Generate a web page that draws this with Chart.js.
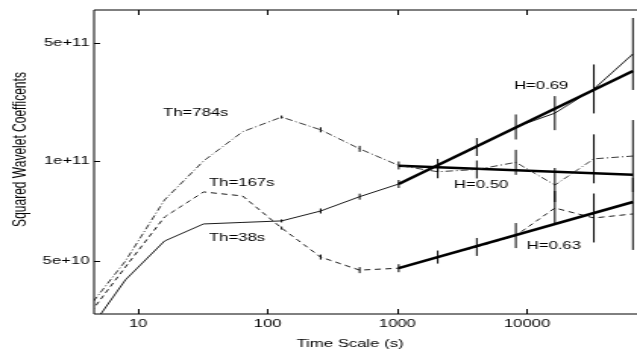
<!DOCTYPE html>
<html>
<head>
<meta charset="utf-8">
<script src="https://cdn.jsdelivr.net/npm/chart.js@4.4.1/dist/chart.umd.min.js"></script>
<style>
  html, body { margin: 0; padding: 0; background: #fff; }
  canvas { display: block; }
</style>
</head>
<body>
<!-- drawn at 420 wide and stretched to 637, like the original figure -->
<canvas id="waveChart" width="420" height="352" style="width:637px;height:352px"></canvas>
<script>
// time scales (s), octaves 2..16
const scales = [4, 8, 16, 32, 64, 128, 256, 512, 1024, 2048, 4096, 8192, 16384, 32768, 65536];
const th38  = [9.47e9, 1.98e10, 3.36e10, 4.24e10, 4.33e10, 4.42e10, 5.06e10, 6.15e10, 7.31e10, 9.41e10, 1.21e11, 1.59e11, 1.92e11, 2.67e11, 4.30e11];
const th167 = [1.18e10, 2.36e10, 4.66e10, 6.56e10, 6.21e10, 4.01e10, 2.70e10, 2.26e10, 2.32e10, 2.70e10, 3.10e10, 3.62e10, 5.27e10, 4.60e10, 4.86e10];
const th784 = [1.31e10, 2.56e10, 5.88e10, 1.00e11, 1.49e11, 1.82e11, 1.53e11, 1.18e11, 9.41e10, 8.64e10, 8.91e10, 9.82e10, 7.21e10, 1.03e11, 1.07e11];
// confidence interval (multiplicative) at each scale
const ciFactor = [1, 1, 1, 1, 1, 1.021, 1.035, 1.042, 1.056, 1.093, 1.130, 1.186, 1.261, 1.396, 1.633];

// fitted lines over 1024..65536
const fitScales = [1024, 65536];
const fitH069 = [7.31e10, 3.41e11];
const fitH050 = [9.38e10, 8.29e10];
const fitH063 = [2.32e10, 5.72e10];

const xTicks = [10, 100, 1000, 10000];
const yTickValues = [2.56e10, 1e11, 5e11];
const yTickLabels = ['5e+10', '1e+11', '5e+11'];

const notes = [
  { text: 'Th=784s', x: 15.6, y: 1.92e11 },
  { text: 'Th=167s', x: 35.3, y: 7.38e10 },
  { text: 'Th=38s', x: 35.3, y: 3.52e10 },
  { text: 'H=0.69', x: 7937, y: 2.78e11 },
  { text: 'H=0.50', x: 2735, y: 7.21e10 },
  { text: 'H=0.63', x: 9948, y: 3.14e10 }
];

function pts(xs, ys) {
  return xs.map((x, i) => ({ x: x, y: ys[i] }));
}

const frameAndExtras = {
  id: 'frameAndExtras',
  afterDatasetsDraw(chart) {
    const ctx = chart.ctx;
    const a = chart.chartArea;
    const x = chart.scales.x, y = chart.scales.y;
    // error bars
    ctx.save();
    ctx.beginPath();
    ctx.rect(a.left, a.top, a.right - a.left, a.bottom - a.top);
    ctx.clip();
    ctx.strokeStyle = '#000';
    ctx.lineWidth = 1;
    ctx.beginPath();
    [th38, th167, th784].forEach(series => {
      series.forEach((v, i) => {
        const f = ciFactor[i];
        if (f <= 1) return;
        const px = x.getPixelForValue(scales[i]);
        ctx.moveTo(px, y.getPixelForValue(v * f));
        ctx.lineTo(px, y.getPixelForValue(v / f));
      });
    });
    ctx.stroke();
    ctx.restore();
  },
  afterDraw(chart) {
    const ctx = chart.ctx;
    const a = chart.chartArea;
    const x = chart.scales.x, y = chart.scales.y;
    ctx.save();
    ctx.strokeStyle = '#000';
    ctx.lineWidth = 1;
    ctx.beginPath();
    ctx.moveTo(a.right + 2, a.top);
    ctx.lineTo(a.left, a.top);
    ctx.lineTo(a.left, a.bottom);
    ctx.lineTo(a.right + 2, a.bottom);
    // inward ticks
    xTicks.forEach(t => {
      const px = Math.round(x.getPixelForValue(t)) + 0.5;
      ctx.moveTo(px, a.bottom); ctx.lineTo(px, a.bottom - 5);
      ctx.moveTo(px, a.top); ctx.lineTo(px, a.top + 5);
    });
    yTickValues.forEach(t => {
      const py = Math.round(y.getPixelForValue(t)) + 0.5;
      ctx.moveTo(a.left, py); ctx.lineTo(a.left + 4, py);
    });
    ctx.stroke();

    ctx.fillStyle = '#000';
    ctx.font = '11px "Liberation Sans", Arial, sans-serif';
    ctx.textAlign = 'left';
    ctx.textBaseline = 'middle';
    notes.forEach(n => {
      ctx.fillText(n.text, x.getPixelForValue(n.x), y.getPixelForValue(n.y));
    });

    // axis titles
    ctx.textAlign = 'center';
    ctx.fillText('Time Scale (s)', 230.8, 344);
    ctx.translate(13.2, 149.5);
    ctx.rotate(-Math.PI / 2);
    ctx.font = '12px "Liberation Sans", Arial, sans-serif';
    ctx.fillText('Squared Wavelet Coefficents', 0, 0);
    ctx.restore();
  }
};

Chart.defaults.font.family = '"Liberation Sans", Arial, sans-serif';
Chart.defaults.font.size = 11;
Chart.defaults.color = '#000';

const thin = { borderColor: '#000', borderWidth: 0.9, pointRadius: 0, tension: 0, fill: false };
const thick = { borderColor: '#000', borderWidth: 2.5, pointRadius: 0, tension: 0, fill: false };

const waveChart = new Chart(document.getElementById('waveChart'), {
  type: 'line',
  data: {
    datasets: [
      Object.assign({ label: 'Th=38s', data: pts(scales, th38) }, thin),
      Object.assign({ label: 'Th=167s', data: pts(scales, th167), borderDash: [4, 3] }, thin),
      Object.assign({ label: 'Th=784s', data: pts(scales, th784), borderDash: [5, 2, 1, 2] }, thin, { borderColor: '#222' }),
      Object.assign({ label: 'H=0.69', data: pts(fitScales, fitH069) }, thick),
      Object.assign({ label: 'H=0.50', data: pts(fitScales, fitH050) }, thick),
      Object.assign({ label: 'H=0.63', data: pts(fitScales, fitH063) }, thick)
    ]
  },
  options: {
    responsive: false,
    animation: false,
    devicePixelRatio: 1,
    layout: { padding: { top: 10, left: 0, right: 0, bottom: 0 } },
    plugins: { legend: { display: false }, tooltip: { enabled: false } },
    scales: {
      x: {
        type: 'logarithmic',
        min: 4.58,
        max: 70470,
        grid: { display: false, drawTicks: false },
        border: { display: false },
        afterBuildTicks: s => { s.ticks = xTicks.map(v => ({ value: v })); },
        afterFit: s => { s.height = 38; },
        ticks: { padding: 3, maxRotation: 0, callback: v => String(v) }
      },
      y: {
        type: 'logarithmic',
        min: 1.243e10,
        max: 7.83e11,
        grid: { display: false, drawTicks: false },
        border: { display: false },
        afterBuildTicks: s => { s.ticks = yTickValues.map(v => ({ value: v })); },
        afterFit: s => { s.width = 62; },
        ticks: { padding: 3, callback: (v, i) => yTickLabels[i] }
      }
    }
  },
  plugins: [frameAndExtras]
});
</script>
</body>
</html>
